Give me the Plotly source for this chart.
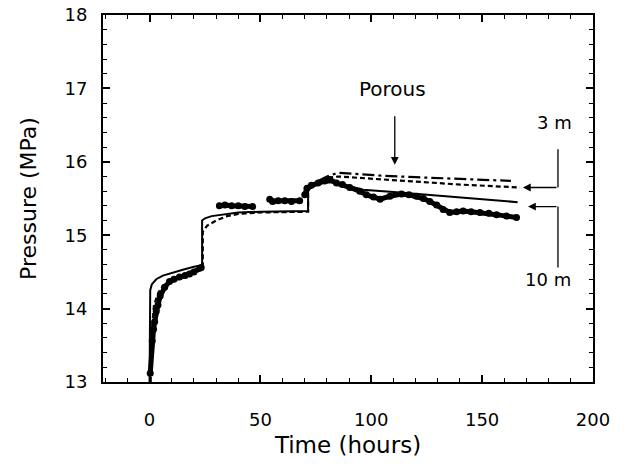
import plotly.graph_objects as go

# Measured pressure (data)
meas_t = [0.3, 1.2, 1.8, 2.3, 3.0, 3.8, 4.8, 6.8, 9.0, 11.0, 13.5, 16.0, 18.0, 20.0, 23.3,
          None,
          31.5, 34.0, 37.0, 40.0, 43.0, 46.5,
          None,
          54.2, 55.5, 58.0, 61.0, 64.0, 67.7,
          None,
          70.0, 71.0, 73.0, 76.0, 79.0, 81.3, 84.3, 87.0, 90.3, 94.8, 97.8, 101.0, 104.0,
          108.4, 113.6, 117.0, 120.4, 123.5, 126.4, 129.5, 132.4, 135.4, 138.5, 141.4,
          145.0, 149.0, 153.0, 156.5, 161.0, 165.5]
meas_p = [13.12, 13.56, 13.72, 13.82, 13.96, 14.05, 14.17, 14.29, 14.37, 14.40, 14.43, 14.45, 14.47, 14.50, 14.56,
          None,
          15.40, 15.41, 15.40, 15.40, 15.39, 15.39,
          None,
          15.49, 15.46, 15.47, 15.47, 15.46, 15.47,
          None,
          15.55, 15.64, 15.68, 15.71, 15.74, 15.76, 15.71, 15.69, 15.65, 15.60, 15.55, 15.52, 15.49,
          15.53, 15.56, 15.55, 15.53, 15.50, 15.46, 15.41, 15.35, 15.31, 15.32, 15.33,
          15.32, 15.31, 15.30, 15.28, 15.26, 15.24]

# Model, 10 m (solid)
m10_t = [0.0, 0.0, 0.3, 1.0, 3.0, 6.0, 10.0, 15.0, 20.0, 23.7, 23.7, 25.0, 28.0, 32.0, 40.0,
         50.0, 60.0, 71.5, 71.5, 74.0, 78.0, 82.0, 90.0, 96.2, 110.0, 125.0, 140.0, 155.0, 166.0]
m10_p = [13.0, 14.10, 14.25, 14.33, 14.40, 14.45, 14.49, 14.53, 14.57, 14.59, 15.20, 15.23, 15.26, 15.28, 15.31,
         15.32, 15.32, 15.33, 15.62, 15.67, 15.71, 15.72, 15.67, 15.62, 15.59, 15.55, 15.52, 15.48, 15.45]

# Model, 3 m (dashed)
m3_t = [0.5, 1.0, 2.0, 4.0, 6.0, 10.0, 14.0, 20.0, 24.0, 24.0, 26.0, 30.0, 35.0, 40.0, 50.0,
        71.5, 71.5, 76.0, 80.0, 85.0, 100.0, 120.0, 140.0, 167.0]
m3_p = [13.0, 13.70, 14.05, 14.22, 14.31, 14.38, 14.43, 14.49, 14.53, 15.05, 15.13, 15.20, 15.26, 15.29, 15.31,
        15.32, 15.62, 15.72, 15.78, 15.80, 15.77, 15.73, 15.69, 15.65]

# Model, porous (dash-dot)
mp_t = [76.0, 80.0, 85.0, 93.0, 105.0, 120.0, 140.0, 163.0]
mp_p = [15.74, 15.80, 15.85, 15.83, 15.81, 15.79, 15.77, 15.74]

FONT = "DejaVu Sans"
fig = go.Figure()

fig.add_trace(go.Scatter(x=m10_t, y=m10_p, mode="lines",
                         line=dict(color="black", width=2), showlegend=False))
fig.add_trace(go.Scatter(x=m3_t, y=m3_p, mode="lines",
                         line=dict(color="black", width=2.2, dash="5px,3px"), showlegend=False))
fig.add_trace(go.Scatter(x=mp_t, y=mp_p, mode="lines",
                         line=dict(color="black", width=2.2, dash="12px,4px,3px,4px"), showlegend=False))
fig.add_trace(go.Scatter(x=meas_t, y=meas_p, mode="lines+markers",
                         line=dict(color="black", width=5),
                         marker=dict(color="black", size=7), showlegend=False))

# Arrow: Porous
fig.add_annotation(x=110.6, y=15.96, ax=110.6, ay=16.64, xref="x", yref="y", axref="x", ayref="y",
                   text="", showarrow=True, arrowhead=2, arrowsize=1.2, arrowwidth=1.3, arrowcolor="black")
fig.add_annotation(x=109.7, y=16.99, text="Porous", showarrow=False,
                   font=dict(family=FONT, size=20, color="black"))

# Arrow: 3 m
fig.add_shape(type="line", x0=184.2, y0=16.17, x1=184.2, y1=15.65, line=dict(color="black", width=1.3))
fig.add_annotation(x=168.4, y=15.65, ax=184.2, ay=15.65, xref="x", yref="y", axref="x", ayref="y",
                   text="", showarrow=True, arrowhead=2, arrowsize=1.2, arrowwidth=1.3, arrowcolor="black")
fig.add_annotation(x=182.8, y=16.53, text="3 m", showarrow=False,
                   font=dict(family=FONT, size=18, color="black"))

# Arrow: 10 m
fig.add_shape(type="line", x0=184.2, y0=14.56, x1=184.2, y1=15.39, line=dict(color="black", width=1.3))
fig.add_annotation(x=170.7, y=15.39, ax=184.2, ay=15.39, xref="x", yref="y", axref="x", ayref="y",
                   text="", showarrow=True, arrowhead=2, arrowsize=1.2, arrowwidth=1.3, arrowcolor="black")
fig.add_annotation(x=179.7, y=14.40, text="10 m", showarrow=False,
                   font=dict(family=FONT, size=18, color="black"))

axis_common = dict(showgrid=False, zeroline=False, showline=True, linecolor="black", linewidth=2,
                   mirror="ticks", ticks="inside", tickcolor="black", tickwidth=1.5, ticklen=7,
                   tickfont=dict(family=FONT, size=18, color="black"))

fig.update_xaxes(range=[-21, 200], tickvals=[0, 50, 100, 150, 200], ticklabelstandoff=20,
                 minor=dict(dtick=10, ticks="inside", ticklen=4, tickcolor="black", tickwidth=1.2),
                 title=dict(text="Time (hours)", font=dict(family=FONT, size=23, color="black"), standoff=8),
                 **axis_common)
fig.update_yaxes(range=[13, 18], dtick=1, ticklabelstandoff=10,
                 minor=dict(dtick=0.2, ticks="inside", ticklen=4, tickcolor="black", tickwidth=1.2),
                 title=dict(text="Pressure (MPa)", font=dict(family=FONT, size=22, color="black"), standoff=22),
                 **axis_common)

fig.update_layout(width=628, height=466, margin=dict(l=103, r=35, t=15, b=84, autoexpand=False),
                  plot_bgcolor="white", paper_bgcolor="white")

fig.write_html("out.html", config={"displayModeBar": False},
               post_script="document.body.style.margin='0';document.body.style.overflow='hidden';")
